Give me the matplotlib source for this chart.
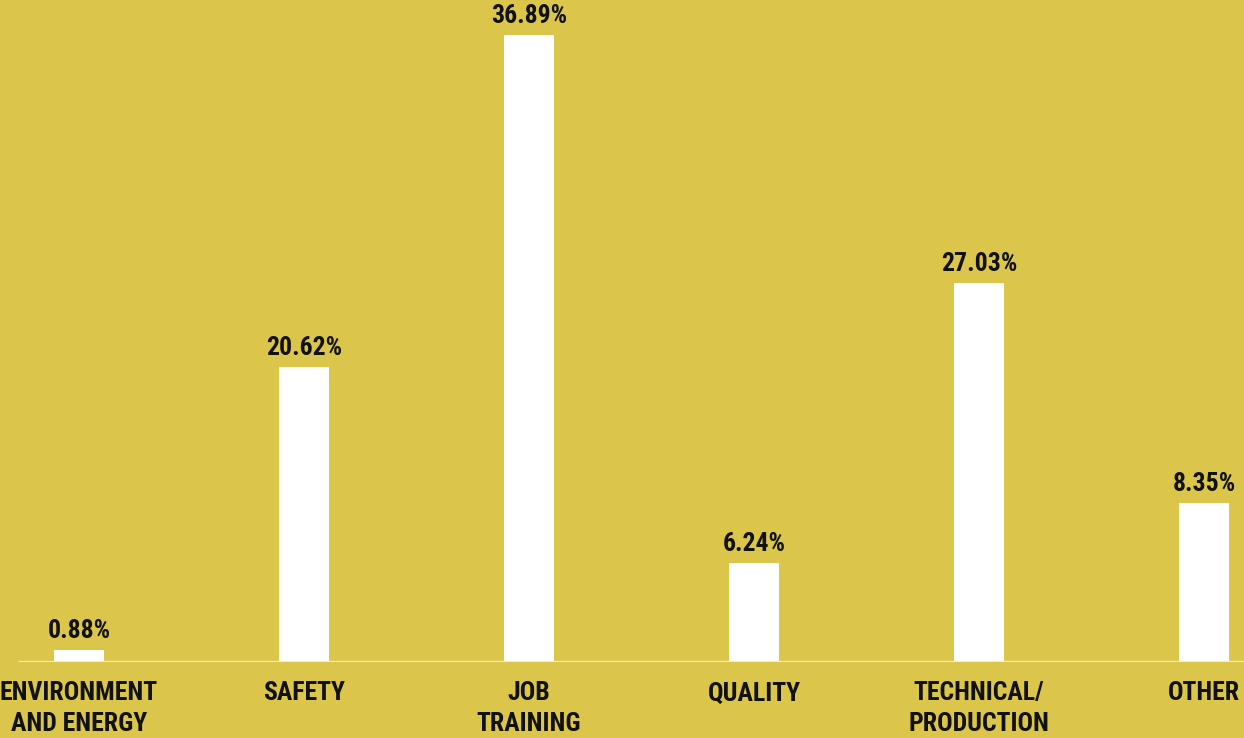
import matplotlib
matplotlib.use("Agg")
import matplotlib.pyplot as plt

categories = ["ENVIRONMENT\nAND ENERGY", "SAFETY", "JOB\nTRAINING", "QUALITY",
              "TECHNICAL/\nPRODUCTION", "OTHER"]
# Percent values shown in the labels
values = [0.88, 20.62, 36.89, 6.24, 27.03, 8.35]
# Bar heights as drawn in the reference (not proportional to the labels)
bar_heights = [0.71, 17.35, 36.89, 5.82, 22.29, 9.35]

BG = "#DBC54A"
plt.rcParams['font.family'] = ['Roboto Condensed', 'Roboto', 'DejaVu Sans']

fig = plt.figure(figsize=(12.44, 7.38), dpi=100, facecolor=BG)
ax = fig.add_axes([19/1244, 76/738, 1225/1244, 662/738])
ax.set_facecolor(BG)

x = list(range(len(categories)))
bars = ax.bar(x, bar_heights, width=50/225, color="white", zorder=2)

for xi, h, v in zip(x, bar_heights, values):
    ax.annotate(f"{v:.2f}%", (xi, h), xytext=(0, 8.5), textcoords="offset points",
                ha="center", va="baseline", fontsize=18.5, fontweight="bold",
                fontstretch="condensed", color="#111111")

ax.set_xlim(-60/225, (1244-79)/225)
ax.set_ylim(0, 662/17)
ax.axhline(0, color="#F5EEC6", linewidth=1.6, zorder=3)

for s in ax.spines.values():
    s.set_visible(False)
ax.set_yticks([])
ax.set_xticks(x)
ax.set_xticklabels(categories, fontsize=18.5, fontweight="bold", color="#111111",
                   linespacing=1.35, fontstretch="condensed")
ax.tick_params(axis="x", length=0, pad=14)

fig.savefig("out.png", dpi=100, facecolor=BG)
